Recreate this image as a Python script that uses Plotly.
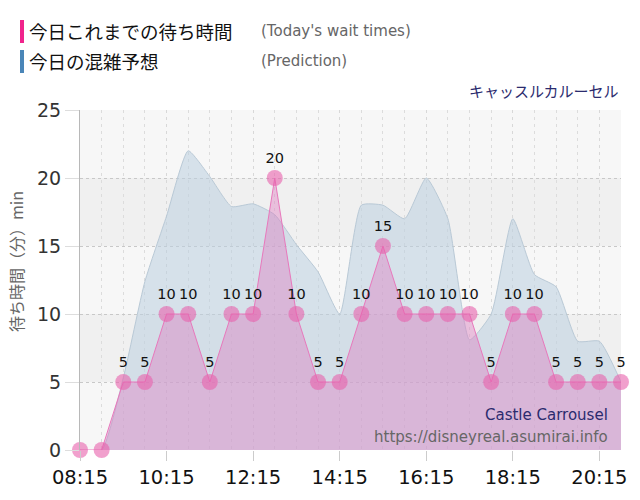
import plotly.graph_objects as go

times = ["08:15", "08:45", "09:15", "09:45", "10:15", "10:45", "11:15", "11:45",
         "12:15", "12:45", "13:15", "13:45", "14:15", "14:45", "15:15", "15:45",
         "16:15", "16:45", "17:15", "17:45", "18:15", "18:45", "19:15", "19:45",
         "20:15", "20:45"]
actual = [0, 0, 5, 5, 10, 10, 5, 10, 10, 20, 10, 5, 5, 10, 15, 10, 10, 10, 10, 5,
          10, 10, 5, 5, 5, 5]
prediction = [0, 0, 5.3, 12.4, 17.2, 22.0, 20.1, 17.9, 18.1, 17.3, 15.1, 13.1, 10.0,
              18.0, 18.0, 17.0, 20.0, 17.0, 8.1, 10.0, 17.0, 12.9, 12.0, 8.0, 8.0, 5.0]
tick_labels = ["08:15", "10:15", "12:15", "14:15", "16:15", "18:15", "20:15"]
y_ticks = [0, 5, 10, 15, 20, 25]

x = list(range(len(times)))
tick_pos = [times.index(t) for t in tick_labels]

LAT = "DejaVu Sans"
CJK = "Noto Sans CJK JP"

fig = go.Figure()
fig.add_trace(go.Scatter(
    x=x, y=prediction, mode="lines", line=dict(color="#b9c9d6", width=1, shape="spline", smoothing=0.5),
    fill="tozeroy", fillcolor="rgba(188,208,224,0.55)", hoverinfo="skip", showlegend=False))
fig.add_trace(go.Scatter(
    x=x, y=actual, mode="lines+markers+text", line=dict(color="#e878bc", width=1),
    fill="tozeroy", fillcolor="rgba(222,118,190,0.40)",
    marker=dict(size=16, color="rgba(232,96,172,0.6)"),
    text=[str(v) if v > 0 else "" for v in actual], textposition="top center",
    textfont=dict(family=LAT, size=14.5, color="#111"),
    cliponaxis=False, hoverinfo="skip", showlegend=False))

shapes = []
for lo, hi, c in [(0, 5, "#f7f7f7"), (5, 10, "#f0f0f0"), (10, 15, "#f7f7f7"), (15, 20, "#f0f0f0"), (20, 25, "#f7f7f7")]:
    shapes.append(dict(type="rect", xref="paper", yref="y", x0=0, x1=1, y0=lo, y1=hi,
                       fillcolor=c, line=dict(width=0), layer="below"))

def px(v):
    return (v - 80) / 541.0

def py(v):
    return (450 - v) / 340.0

shapes.append(dict(type="rect", xref="paper", yref="paper", x0=px(20), x1=px(24), y0=py(20), y1=py(43),
                   fillcolor="#f0248c", line=dict(width=0)))
shapes.append(dict(type="rect", xref="paper", yref="paper", x0=px(20), x1=px(24), y0=py(50), y1=py(73),
                   fillcolor="#4a86b8", line=dict(width=0)))

annotations = [
    dict(text="今日これまでの待ち時間", x=px(27), y=py(31), xref="paper", yref="paper", xanchor="left", yanchor="middle",
         showarrow=False, font=dict(family=CJK, size=18.5, color="#111")),
    dict(text="今日の混雑予想", x=px(27), y=py(61), xref="paper", yref="paper", xanchor="left", yanchor="middle",
         showarrow=False, font=dict(family=CJK, size=18.5, color="#111")),
    dict(text="(Today's wait times)", x=px(259), y=py(31), xref="paper", yref="paper", xanchor="left", yanchor="middle",
         showarrow=False, font=dict(family=LAT, size=15, color="#666")),
    dict(text="(Prediction)", x=px(259), y=py(61), xref="paper", yref="paper", xanchor="left", yanchor="middle",
         showarrow=False, font=dict(family=LAT, size=15, color="#666")),
    dict(text="キャッスルカルーセル", x=px(621), y=py(90), xref="paper", yref="paper", xanchor="right", yanchor="middle",
         showarrow=False, font=dict(family=CJK, size=15, color="#2b2b6e")),
    dict(text="Castle Carrousel", x=px(610), y=py(415), xref="paper", yref="paper", xanchor="right", yanchor="middle",
         showarrow=False, font=dict(family=LAT, size=15, color="#2b2b6e")),
    dict(text="https://disneyreal.asumirai.info", x=px(610), y=py(436.5), xref="paper", yref="paper", xanchor="right", yanchor="middle",
         showarrow=False, font=dict(family=LAT, size=15, color="#666")),
    dict(text="待ち時間（分）min", x=px(16), y=py(262), xref="paper", yref="paper", xanchor="center", yanchor="middle",
         textangle=-90, showarrow=False, font=dict(family=CJK, size=16, color="#666")),
]

fig.update_layout(
    width=640, height=500,
    margin=dict(l=80, r=19, t=110, b=50),
    paper_bgcolor="white", plot_bgcolor="#f6f6f6",
    shapes=shapes, annotations=annotations,
    xaxis=dict(range=[0, len(times) - 1], tickmode="array", tickvals=tick_pos, ticktext=tick_labels,
               showgrid=True, gridcolor="#d8d8d8", griddash="3px,4px", gridwidth=1,
               minor=dict(dtick=1, tick0=0, showgrid=True, gridcolor="#dcdcdc", griddash="3px,4px", gridwidth=1),
               ticks="outside", ticklen=10, tickcolor="#cccccc",
               tickfont=dict(family=LAT, size=19.5, color="#111"),
               showline=False, zeroline=False, fixedrange=True),
    yaxis=dict(range=[0, 25], tickmode="array", tickvals=y_ticks,
               showgrid=True, gridcolor="#c8c8c8", griddash="dot", gridwidth=1,
               ticks="outside", ticklen=14, tickcolor="#dddddd",
               tickfont=dict(family=LAT, size=19, color="#333"),
               showline=True, linecolor="#b8b8b8", linewidth=1, zeroline=False, fixedrange=True),
)

fig.write_html("out.html")
